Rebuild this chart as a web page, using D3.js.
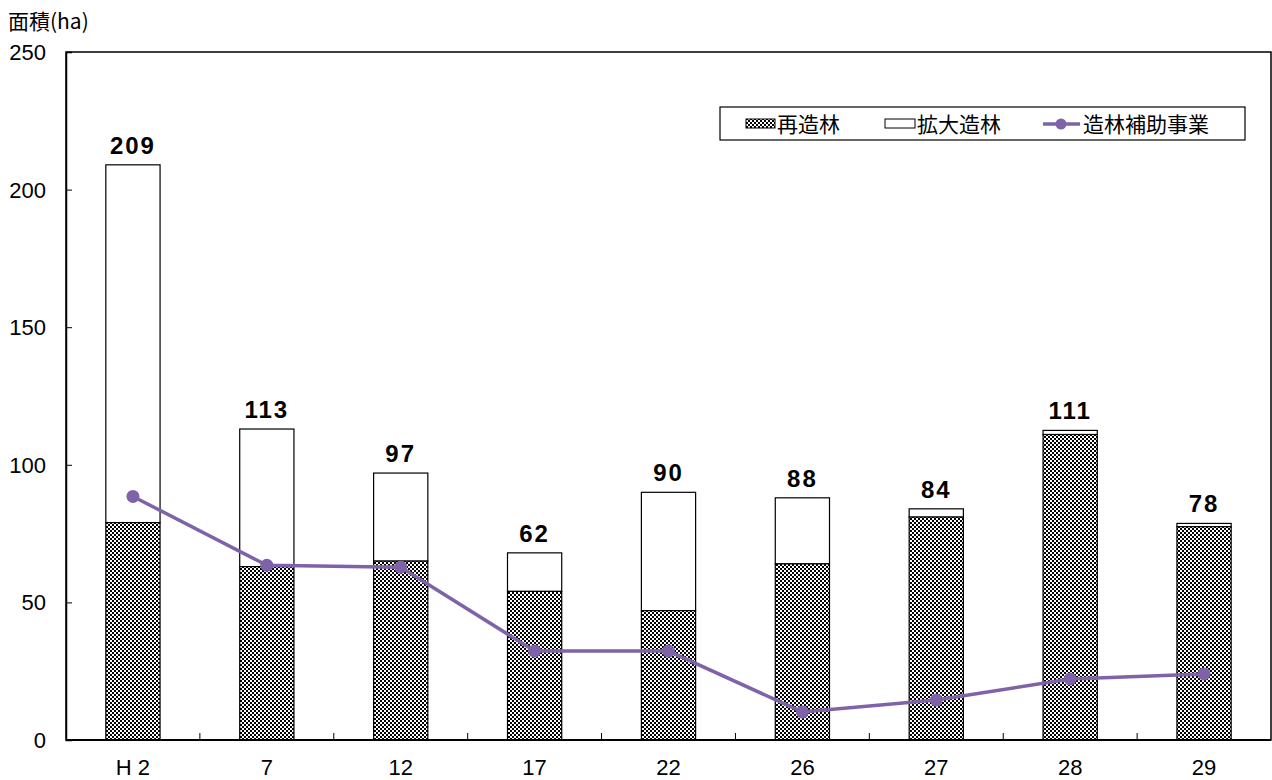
<!DOCTYPE html>
<html>
<head>
<meta charset="utf-8">
<script src="https://cdn.jsdelivr.net/npm/d3@7"></script>
<style>
  body { margin: 0; background: #fff; }
  svg text { font-family: "Liberation Sans", Arial, sans-serif; }
  svg text.jp { font-family: "Noto Sans CJK JP", sans-serif; }
</style>
</head>
<body>
<div class="chart"></div>
<script>
// データ
const years = ["H 2", "7", "12", "17", "22", "26", "27", "28", "29"];
const saizourin = [79, 63, 65, 54, 47, 64, 81, 111, 77.5];   // 再造林
const kakudai = [130, 50, 32, 14, 43, 24, 3, 1.5, 1.2];      // 拡大造林
const hojo = [88.5, 63.5, 62.8, 32.3, 32.3, 10.2, 14.5, 22.2, 24]; // 造林補助事業
const totalLabels = ["209", "113", "97", "62", "90", "88", "84", "111", "78"];
const yTicks = [0, 50, 100, 150, 200, 250];

const W = 1272, H = 780;
const Margin = {top: 52, bottom: 40, left: 66, right: 1};
const lineColor = "#7f63a8";

const svg = d3.select(".chart").append("svg")
  .attr("width", W).attr("height", H);

// 市松模様
const defs = svg.append("defs");
const pat = defs.append("pattern")
  .attr("id", "checker")
  .attr("patternUnits", "userSpaceOnUse")
  .attr("width", 4).attr("height", 4);
pat.append("rect").attr("width", 4).attr("height", 4).attr("fill", "#fff");
pat.append("rect").attr("x", 0).attr("y", 0).attr("width", 2).attr("height", 2).attr("fill", "#000");
pat.append("rect").attr("x", 2).attr("y", 2).attr("width", 2).attr("height", 2).attr("fill", "#000");

const x = d3.scaleBand()
  .domain(years)
  .range([Margin.left, W - Margin.right]);
const y = d3.scaleLinear()
  .domain([0, 250])
  .range([H - Margin.bottom, Margin.top]);

const barW = x.bandwidth() * 0.405;
const cx = d => x(d) + x.bandwidth() / 2;

// 枠
svg.append("rect")
  .attr("x", Margin.left).attr("y", Margin.top)
  .attr("width", W - Margin.right - Margin.left)
  .attr("height", y(0) - Margin.top)
  .attr("fill", "none").attr("stroke", "#000").attr("stroke-width", 1.5);

// 拡大造林（上）
svg.append("g").selectAll("rect")
  .data(years)
  .join("rect")
    .attr("x", d => cx(d) - barW / 2)
    .attr("y", (d, i) => y(saizourin[i] + kakudai[i]))
    .attr("width", barW)
    .attr("height", (d, i) => y(saizourin[i]) - y(saizourin[i] + kakudai[i]))
    .attr("fill", "#fff").attr("stroke", "#000").attr("stroke-width", 1.2);

// 再造林（下）
svg.append("g").selectAll("rect")
  .data(years)
  .join("rect")
    .attr("x", d => cx(d) - barW / 2)
    .attr("y", (d, i) => y(saizourin[i]))
    .attr("width", barW)
    .attr("height", (d, i) => y(0) - y(saizourin[i]))
    .attr("fill", "url(#checker)").attr("stroke", "#000").attr("stroke-width", 1.2);

// 合計ラベル
svg.append("g").selectAll("text")
  .data(years)
  .join("text")
    .attr("x", d => cx(d))
    .attr("y", (d, i) => y(saizourin[i] + kakudai[i]) - 11)
    .attr("text-anchor", "middle")
    .style("font-size", "24px")
    .style("font-weight", "bold")
    .style("letter-spacing", "2px")
    .text((d, i) => totalLabels[i]);

// 折れ線
const line = d3.line()
  .x((d, i) => cx(years[i]))
  .y(d => y(d));
svg.append("path")
  .datum(hojo)
  .attr("d", line)
  .attr("fill", "none")
  .attr("stroke", lineColor)
  .attr("stroke-width", 3.5);
svg.append("g").selectAll("circle")
  .data(hojo)
  .join("circle")
    .attr("cx", (d, i) => cx(years[i]))
    .attr("cy", d => y(d))
    .attr("r", 6.5)
    .attr("fill", lineColor);

// y軸
const yAxis = d3.axisRight(y).tickValues(yTicks).tickSize(6).tickFormat("");
svg.append("g")
  .attr("transform", `translate(${Margin.left},0)`)
  .call(yAxis)
  .call(g => g.select(".domain").attr("stroke-width", 1.5));
svg.append("g").selectAll("text")
  .data(yTicks)
  .join("text")
    .attr("x", 46)
    .attr("y", d => y(d))
    .attr("dy", "0.36em")
    .attr("text-anchor", "end")
    .style("font-size", "22px")
    .text(d => d);

// x軸（区切り目盛）
const xAxisG = svg.append("g");
xAxisG.append("line")
  .attr("x1", Margin.left).attr("x2", W - Margin.right)
  .attr("y1", y(0)).attr("y2", y(0))
  .attr("stroke", "#000").attr("stroke-width", 2);
xAxisG.selectAll("line.sep")
  .data(years.slice(1))
  .join("line")
    .attr("class", "sep")
    .attr("x1", d => x(d)).attr("x2", d => x(d))
    .attr("y1", y(0)).attr("y2", y(0) - 7)
    .attr("stroke", "#000").attr("stroke-width", 1);
xAxisG.selectAll("text")
  .data(years)
  .join("text")
    .attr("x", d => cx(d))
    .attr("y", 775)
    .attr("text-anchor", "middle")
    .style("font-size", "22px")
    .text(d => d);

// 軸タイトル
svg.append("text")
  .attr("class", "jp")
  .attr("x", 8).attr("y", 29)
  .style("font-size", "21px")
  .text("面積(ha)");

// 凡例
const lg = svg.append("g");
lg.append("rect")
  .attr("x", 720).attr("y", 107).attr("width", 525).attr("height", 33)
  .attr("fill", "#fff").attr("stroke", "#000").attr("stroke-width", 1.2);
lg.append("rect")
  .attr("x", 746).attr("y", 119).attr("width", 29).attr("height", 9)
  .attr("fill", "url(#checker)").attr("stroke", "#000").attr("stroke-width", 1);
lg.append("text").attr("class", "jp")
  .attr("x", 777).attr("y", 132).style("font-size", "21px").text("再造林");
lg.append("rect")
  .attr("x", 885).attr("y", 119).attr("width", 30).attr("height", 9)
  .attr("fill", "#fff").attr("stroke", "#000").attr("stroke-width", 1);
lg.append("text").attr("class", "jp")
  .attr("x", 917).attr("y", 132).style("font-size", "21px").text("拡大造林");
lg.append("line")
  .attr("x1", 1043).attr("x2", 1080).attr("y1", 124).attr("y2", 124)
  .attr("stroke", lineColor).attr("stroke-width", 3.5);
lg.append("circle")
  .attr("cx", 1061).attr("cy", 124).attr("r", 5.5).attr("fill", lineColor);
lg.append("text").attr("class", "jp")
  .attr("x", 1083).attr("y", 132).style("font-size", "21px").text("造林補助事業");
</script>
</body>
</html>
